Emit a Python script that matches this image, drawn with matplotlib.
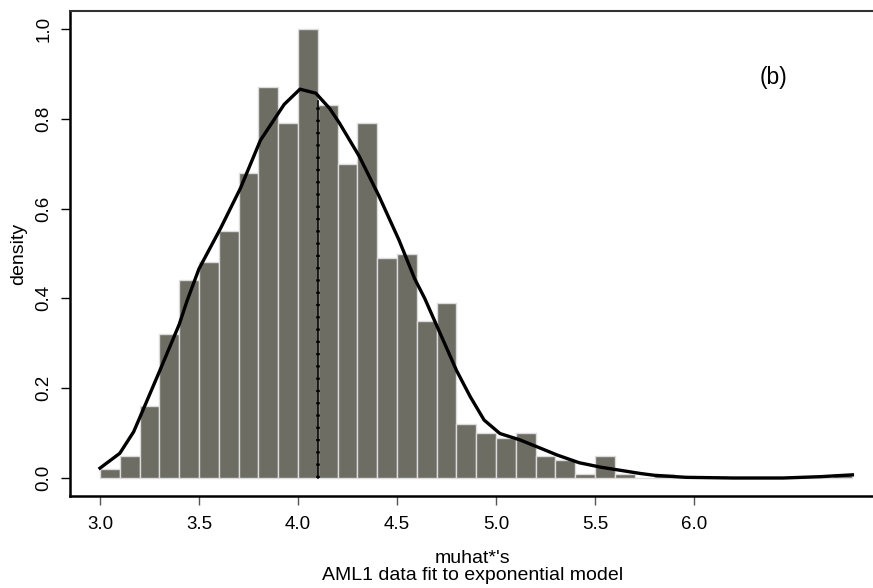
import numpy as np
import matplotlib.pyplot as plt

plt.rcParams['font.family'] = ['Liberation Sans', 'DejaVu Sans']

# histogram of bootstrap muhat*'s, bin width 0.1 starting at 3.0
bin_left = [3.0, 3.1, 3.2, 3.3, 3.4, 3.5, 3.6, 3.7, 3.8, 3.9,
            4.0, 4.1, 4.2, 4.3, 4.4, 4.5, 4.6, 4.7, 4.8, 4.9,
            5.0, 5.1, 5.2, 5.3, 5.4, 5.5, 5.6, 5.7, 5.8, 5.9,
            6.0, 6.1, 6.2, 6.3, 6.4, 6.5, 6.6, 6.7]
density = [0.02, 0.05, 0.16, 0.32, 0.44, 0.48, 0.55, 0.68, 0.87, 0.79,
           1.00, 0.83, 0.70, 0.79, 0.49, 0.50, 0.35, 0.39, 0.12, 0.10,
           0.09, 0.10, 0.05, 0.04, 0.01, 0.05, 0.01, 0.00, 0.01, 0.00,
           0.00, 0.00, 0.00, 0.00, 0.00, 0.00, 0.00, 0.01]

# density estimate curve
curve_x = [3.00, 3.10, 3.17, 3.21, 3.30, 3.40, 3.44, 3.50, 3.61, 3.71,
           3.81, 3.93, 4.01, 4.09, 4.16, 4.21, 4.31, 4.41, 4.51, 4.59,
           4.64, 4.80, 4.87, 4.94, 5.02, 5.12, 5.21, 5.31, 5.42, 5.53,
           5.63, 5.73, 5.80, 5.96, 6.20, 6.45, 6.64, 6.80]
curve_y = [0.022, 0.055, 0.103, 0.144, 0.237, 0.342, 0.395, 0.466, 0.557, 0.646,
           0.752, 0.832, 0.866, 0.857, 0.823, 0.790, 0.716, 0.627, 0.530, 0.443,
           0.400, 0.240, 0.181, 0.129, 0.099, 0.085, 0.069, 0.051, 0.034, 0.024,
           0.017, 0.010, 0.006, 0.0015, 0.0, 0.0, 0.003, 0.007]

# mean of muhat*'s
mu_mean = 4.1
mu_line_top = 0.84

fig = plt.figure(figsize=(8.73, 5.88), dpi=100)
ax = fig.add_axes([70/873, 1 - 496/588, 1 - 70/873, (496 - 11)/588])

ax.bar(bin_left, density, width=0.1, align='edge',
       color='#6d6d63', edgecolor='#dcdcdc', linewidth=1.0)

ax.plot(curve_x, curve_y, color='black', lw=2.4, solid_joinstyle='round')

# dotted vertical line at the mean
ax.plot([mu_mean, mu_mean], [0, mu_line_top], color='black', lw=1.2)
ax.plot([mu_mean, mu_mean], [0, mu_line_top], color='black', lw=2.6,
        linestyle=(0, (0.6, 2.8)))

ax.text(6.404, 0.893, '(b)', fontsize=16.5, ha='center', va='center')

ax.set_xlim(3 - 30/198, 3 + (873 - 100)/198)
ax.set_ylim(-18/449, (478 - 11)/449)

ax.set_xticks([3.0, 3.5, 4.0, 4.5, 5.0, 5.5, 6.0])
ax.set_xticklabels(['3.0', '3.5', '4.0', '4.5', '5.0', '5.5', '6.0'])
ax.set_yticks([0.0, 0.2, 0.4, 0.6, 0.8, 1.0])
ax.set_yticklabels(['0.0', '0.2', '0.4', '0.6', '0.8', '1.0'],
                   rotation=90, va='center')

ax.tick_params(axis='x', length=6.5, width=1.0, color='#555555',
               labelsize=13.5, pad=8)
ax.tick_params(axis='y', length=6.5, width=1.0, color='black',
               labelsize=13.5, pad=6)

ax.spines['right'].set_visible(False)
ax.spines['top'].set_color('#333333')
ax.spines['top'].set_linewidth(1.5)
ax.spines['left'].set_linewidth(1.8)
ax.spines['bottom'].set_linewidth(1.8)

fig.text(473/873, 1 - 563/588, "muhat*'s", fontsize=14,
         ha='center', va='baseline')
fig.text(473/873, 1 - 580/588, 'AML1 data fit to exponential model',
         fontsize=14, ha='center', va='baseline')
fig.text(19/873, 1 - 254/588, 'density', fontsize=14, rotation=90,
         ha='center', va='center')

fig.savefig('out.png', dpi=100)
